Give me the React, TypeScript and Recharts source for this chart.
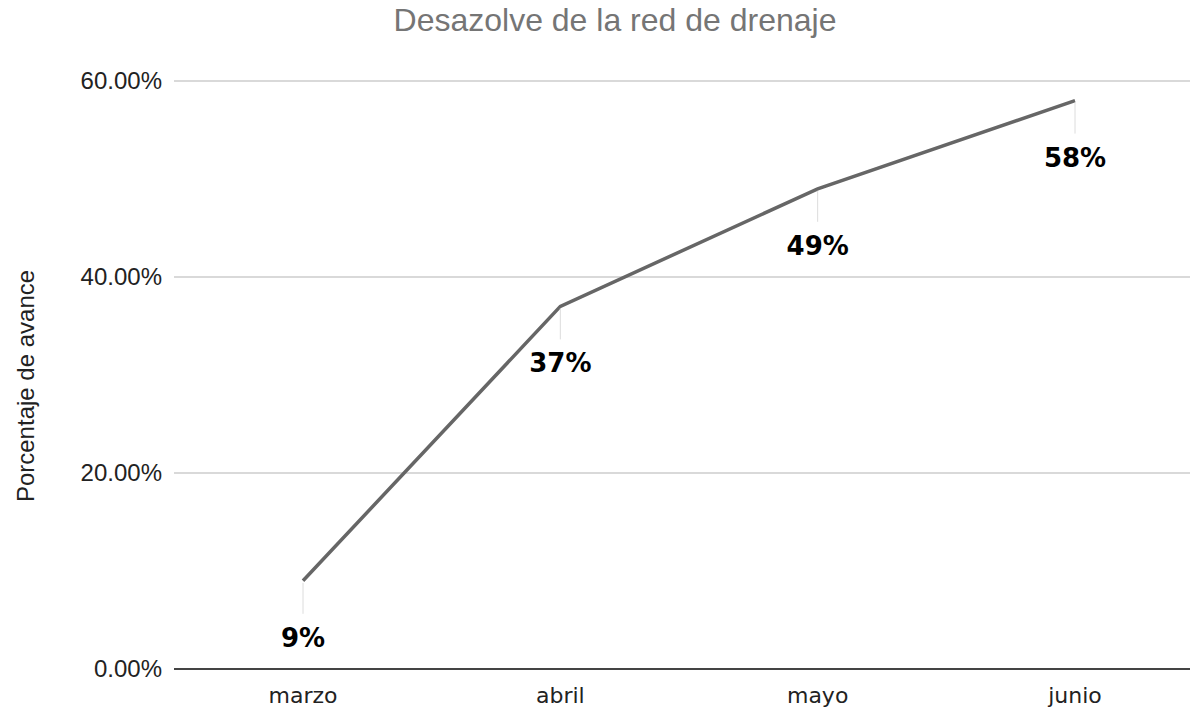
import React from 'react';
import { LineChart, Line, XAxis, YAxis, CartesianGrid, LabelList } from 'recharts';

const months = ['marzo', 'abril', 'mayo', 'junio'];
const avance = [0.09, 0.37, 0.49, 0.58];
const yTicks = [0, 0.2, 0.4, 0.6];

const chartTitle = 'Desazolve de la red de drenaje';
const yTitle = 'Porcentaje de avance';

const data = months.map((m, i) => ({ mes: m, avance: avance[i] }));

const XTick = (props: any) => {
    const { x, y, payload } = props;
    return (
        <text x={x} y={y + 34} textAnchor="middle" fontFamily="DejaVu Sans" fontSize={22} fill="#222">
            {payload.value}
        </text>
    );
};

const YTick = (props: any) => {
    const { x, y, payload } = props;
    return (
        <text x={x} y={y + 8} textAnchor="end" style={{ fontFamily: "'Liberation Sans', Arial, sans-serif" }} fontSize={24} fill="#222">
            {(payload.value * 100).toFixed(2) + '%'}
        </text>
    );
};

const PointLabel = (props: any) => {
    const { x, y, value } = props;
    return (
        <g>
            <line x1={x} y1={y + 2} x2={x} y2={y + 33} stroke="#dcdcdc" strokeWidth={1} />
            <text x={x} y={y + 66} textAnchor="middle" fontFamily="DejaVu Sans" fontWeight="bold" fontSize={26} fill="#000">
                {Math.round(value * 100) + '%'}
            </text>
        </g>
    );
};

export default function App() {
    return (
        <div style={{ position: 'absolute', left: 0, top: 0, width: 1190, height: 710, overflow: 'hidden', background: '#fff' }}>
            <LineChart width={1230} height={710} data={data} margin={{ top: 81, right: 26, left: 0, bottom: 0 }}>
                <CartesianGrid vertical={false} stroke="#cccccc" strokeWidth={1.5} />
                <XAxis
                    dataKey="mes"
                    scale="point"
                    padding={{ left: 129, right: 129 }}
                    height={41}
                    tickSize={0}
                    tickMargin={0}
                    tickLine={false}
                    axisLine={{ stroke: '#444', strokeWidth: 2 }}
                    tick={<XTick />}
                />
                <YAxis
                    width={174}
                    domain={[0, 0.6]}
                    ticks={yTicks}
                    tickSize={0}
                    tickMargin={12}
                    tickLine={false}
                    axisLine={false}
                    tick={<YTick />}
                />
                <Line
                    type="linear"
                    dataKey="avance"
                    stroke="#666666"
                    strokeWidth={3.5}
                    dot={false}
                    activeDot={false}
                    isAnimationActive={false}
                >
                    <LabelList dataKey="avance" content={<PointLabel />} />
                </Line>
            </LineChart>
            <svg width={1190} height={710} style={{ position: 'absolute', left: 0, top: 0, pointerEvents: 'none' }}>
                <text x={615} y={31} textAnchor="middle" style={{ fontFamily: "'Liberation Sans', Arial, sans-serif" }} fontSize={32} fill="#757575">
                    {chartTitle}
                </text>
                <text transform="translate(34,386) rotate(-90)" textAnchor="middle" style={{ fontFamily: "'Liberation Sans', Arial, sans-serif" }} fontSize={24} fill="#222">
                    {yTitle}
                </text>
            </svg>
        </div>
    );
}
